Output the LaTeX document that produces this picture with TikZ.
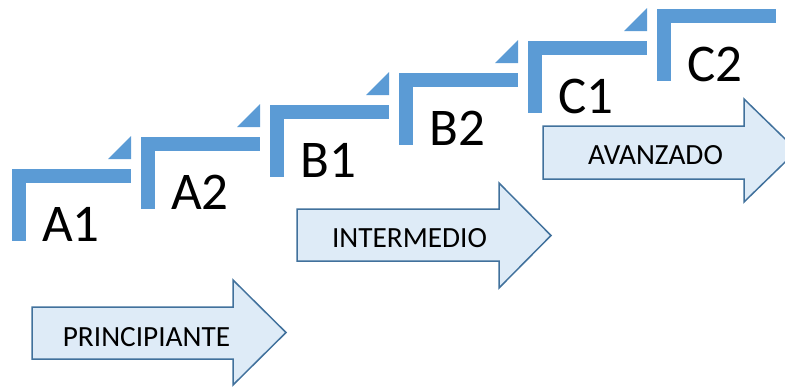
\documentclass[tikz,border=0pt]{standalone}
\usepackage{fontspec}
\setmainfont{Carlito}
\definecolor{barblue}{HTML}{5B9BD5}
\definecolor{arrowedge}{HTML}{41719C}
\definecolor{arrowfill}{HTML}{DEEBF7}
\begin{document}
\begin{tikzpicture}[x=1pt,y=-1pt,
  barpart/.style={fill=barblue,draw=none},
  levelarrow/.style={draw=arrowedge,fill=arrowfill,line width=1.5pt,line join=miter},
  levellabel/.style={font=\fontsize{53}{60}\selectfont,anchor=base west,inner sep=0pt},
  arrowlabel/.style={font=\fontsize{29.3}{34}\selectfont,inner sep=0pt}]
\useasboundingbox (0,0) rectangle (785,386);
\clip (0,0) rectangle (785,386);
% steps
\foreach \i/\lab in {0/A1,1/A2,2/B1,3/B2,4/C1,5/C2}{
  \pgfmathsetmacro{\xo}{12+129*\i}
  \pgfmathsetmacro{\yo}{169-32*\i}
  \fill[barpart] (\xo,\yo) rectangle ++(119,14);
  \fill[barpart] (\xo,\yo) rectangle ++(14,72);
  \ifnum\i<5
    \fill[barpart] (\xo+96,\yo-10) -- (\xo+119,\yo-10) -- (\xo+119,\yo-33) -- cycle;
  \fi
  \node[levellabel] (lab\lab) at (\xo+30,\yo+72) {\lab};
}
% arrows
\draw[levelarrow] (32,307) -- (233,307) -- (233,280) -- (286,332.5) -- (233,385) -- (233,359) -- (32,359) -- cycle;
\node[arrowlabel] (princ) at (146.5,337) {PRINCIPIANTE};
\draw[levelarrow] (297,209) -- (499,209) -- (499,183) -- (551,235.5) -- (499,288) -- (499,261) -- (297,261) -- cycle;
\node[arrowlabel] (inter) at (409.5,238.5) {INTERMEDIO};
\draw[levelarrow] (543,126) -- (744,126) -- (744,99) -- (797,150.5) -- (744,202) -- (744,179) -- (543,179) -- cycle;
\node[arrowlabel] (avanz) at (655.5,155.5) {AVANZADO};
\end{tikzpicture}
\end{document}
